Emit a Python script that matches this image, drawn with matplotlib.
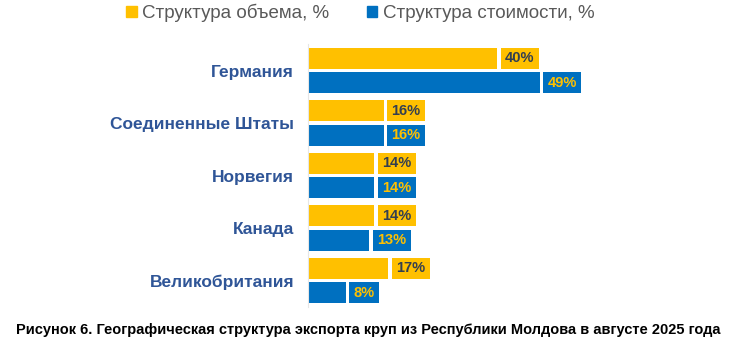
import matplotlib.pyplot as plt
from matplotlib.patches import Rectangle

# data
countries = ["Германия", "Соединенные Штаты", "Норвегия", "Канада", "Великобритания"]
volume_share = [40, 16, 14, 14, 17]
value_share = [49, 16, 14, 13, 8]

YELLOW = "#FFC000"
BLUE = "#0070C0"
LABEL_DARK = "#333F50"
CAT_COLOR = "#2F5597"

plt.rcParams["font.family"] = ["Liberation Sans", "DejaVu Sans"]

fig = plt.figure(figsize=(7.37, 3.45), dpi=100)
ax = fig.add_axes([308 / 737, 0.1109, 283.8 / 737, 0.7608])

off = 0.229
h = 0.40
ys = list(range(len(countries)))

ax.barh([y - off for y in ys], volume_share, height=h, color=YELLOW)
ax.barh([y + off for y in ys], value_share, height=h, color=BLUE)

# value labels in coloured boxes next to bar ends
px = 60 / 283.8  # data units per pixel
for y, v1, v2 in zip(ys, volume_share, value_share):
    for v, yy, fc, tc in [(v1, y - off, YELLOW, LABEL_DARK), (v2, y + off, BLUE, YELLOW)]:
        txt = f"{v}%"
        w = (38 if len(txt) > 2 else 30) * px
        x0 = v + 3.5 * px
        ax.add_patch(Rectangle((x0, yy - h / 2), w, h, color=fc, lw=0))
        ax.text(x0 + w / 2, yy, txt, ha="center", va="center", color=tc,
                fontsize=10.5, fontweight="bold")

ax.set_xlim(0, 60)
ax.set_ylim(len(countries) - 0.5, -0.5)
ax.set_yticks(ys)
ax.set_yticklabels(countries, fontsize=12.5, fontweight="bold", color=CAT_COLOR)
ax.tick_params(axis="y", length=0, pad=10)
ax.set_xticks([])
for s in ["top", "right", "bottom"]:
    ax.spines[s].set_visible(False)
ax.spines["left"].set_color("#E6E6E6")
ax.spines["left"].set_linewidth(0.8)

# legend
h1 = plt.Rectangle((0, 0), 1, 1, color=YELLOW)
h2 = plt.Rectangle((0, 0), 1, 1, color=BLUE)
fig.legend([h1, h2], ["Структура объема, %", "Структура стоимости, %"],
           loc="center", bbox_to_anchor=(0.489, 0.962), ncol=2, frameon=False,
           fontsize=13.5, handlelength=0.55, handleheight=0.55, handletextpad=0.3,
           columnspacing=2.0, labelcolor="#595959")

fig.text(0.5, 0.043,
         "Рисунок 6. Географическая структура экспорта круп из Республики Молдова в августе 2025 года",
         ha="center", va="center", fontsize=10.5, fontweight="bold",
         family=["Liberation Sans Narrow", "Liberation Sans", "DejaVu Sans"])

fig.savefig("out.png", dpi=100)
